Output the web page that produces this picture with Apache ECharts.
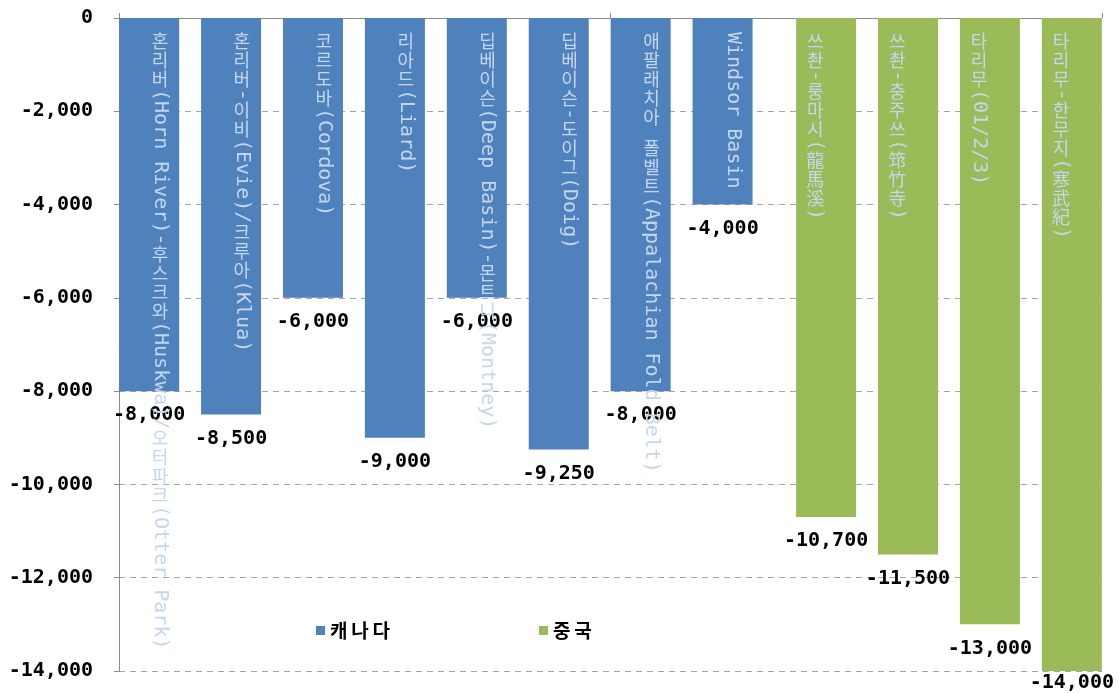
<!DOCTYPE html>
<html>
<head>
<meta charset="utf-8">
<script src="https://cdn.jsdelivr.net/npm/echarts@6/dist/echarts.min.js"></script>
<style>html,body{margin:0;padding:0;background:#fff}#c{width:1119px;height:693px}</style>
</head>
<body>
<div id="c"></div>
<script>
const categories = [
  "혼리버(Horn River)-후스크와(Huskwa)/오터파크(Otter Park)",
  "혼리버-이비(Evie)/크루아(Klua)",
  "코르도바(Cordova)",
  "리아드(Liard)",
  "딥베이슨(Deep Basin)-몬트니(Montney)",
  "딥베이슨-도이그(Doig)",
  "애팔래치아 폴벨트(Appalachian Fold Belt)",
  "Windsor Basin",
  "쓰촨-룽마시(龍馬溪)",
  "쓰촨-충주쓰(筇竹寺)",
  "타리무(01/2/3)",
  "타리무-한무지(寒武紀)"
];
const seriesNames = ["캐나다", "중국"];
const canadaValues = [-8000, -8500, -6000, -9000, -6000, -9250, -8000, -4000, null, null, null, null];
const chinaValues = [null, null, null, null, null, null, null, null, -10700, -11500, -13000, -14000];
const yMin = -14000, yMax = 0, yStep = 2000;

const BLUE = '#4f81bd', GREEN = '#9bbb59', INLABEL = '#c6d6ee';
const MONO = '"DejaVu Sans Mono", "Liberation Mono", monospace';
const KR = '"Noto Sans CJK KR", sans-serif';
const fmt = v => v.toLocaleString('en-US');

const isUpright = ch => /[\u1100-\u11FF\u3130-\u318F\uAC00-\uD7AF\u4E00-\u9FFF\uF900-\uFAFF]/.test(ch);
function splitRuns(s) {
  const runs = [];
  for (const ch of s) {
    const up = isUpright(ch);
    const last = runs[runs.length - 1];
    if (last && !last.up && !up) last.t += ch;
    else runs.push({ up: up, t: ch });
  }
  return runs;
}

function barData(vals) {
  return vals.map(v => v == null ? null : {
    value: v,
    label: { distance: v <= yMin ? 2 : 14 }
  });
}

const legendText = { fontFamily: KR, fontSize: 19, fontWeight: 'bold', color: '#000' };

const chart = echarts.init(document.getElementById('c'));
chart.setOption({
  animation: false,
  backgroundColor: '#fff',
  grid: { left: 119, right: 17, top: 18, bottom: 22, containLabel: false },
  legend: [
    { data: [seriesNames[0]], left: 316, top: 621, padding: 0, itemWidth: 9, itemHeight: 9, icon: 'rect',
      formatter: n => n.split('').join('\u2009'), textStyle: legendText },
    { data: [seriesNames[1]], left: 539, top: 621, padding: 0, itemWidth: 9, itemHeight: 9, icon: 'rect',
      formatter: n => n.split('').join('\u2009'), textStyle: legendText }
  ],
  xAxis: {
    type: 'category',
    data: categories,
    position: 'top',
    axisLine: { onZero: false, lineStyle: { color: '#8c8c8c', width: 1 } },
    axisTick: { show: true, length: 5, lineStyle: { color: '#8c8c8c' } },
    axisLabel: { show: false },
    splitLine: { show: false }
  },
  yAxis: {
    type: 'value',
    min: yMin, max: yMax, interval: yStep,
    axisLine: { show: true, lineStyle: { color: '#8c8c8c', width: 1 } },
    axisTick: { show: true, length: 5, lineStyle: { color: '#8c8c8c' } },
    axisLabel: { formatter: v => fmt(v), fontFamily: MONO, fontSize: 20, fontWeight: 'bold', color: '#000', margin: 26 },
    splitLine: { show: true, lineStyle: { color: '#a6a6a6', type: [6, 5], width: 1 } }
  },
  series: [
    {
      name: seriesNames[0], type: 'bar', data: barData(canadaValues),
      barWidth: 60, barGap: '-64%',
      itemStyle: { color: BLUE },
      label: { show: true, position: 'bottom', formatter: p => fmt(p.value),
        fontFamily: MONO, fontSize: 20, fontWeight: 'bold', color: '#000' }
    },
    {
      name: seriesNames[1], type: 'bar', data: barData(chinaValues),
      barWidth: 60, barGap: '-64%',
      itemStyle: { color: GREEN },
      label: { show: true, position: 'bottom', formatter: p => fmt(p.value),
        fontFamily: MONO, fontSize: 20, fontWeight: 'bold', color: '#000' }
    },
    {
      type: 'custom', silent: true, z: 10, clip: false,
      data: categories.map((c, i) => [i, 0]),
      encode: { x: 0, y: 1 },
      renderItem: function (params, api) {
        const i = api.value(0);
        const p = api.coord([i, 0]);
        const x = p[0];
        let y = p[1] + 14;
        const children = [];
        splitRuns(categories[i]).forEach(r => {
          if (r.up) {
            children.push({ type: 'text', x: x, y: y,
              style: { text: r.t, fill: INLABEL, fontFamily: KR, fontSize: 18, align: 'center', verticalAlign: 'top' } });
            y += 19;
          } else {
            children.push({ type: 'text', x: x, y: y, rotation: -Math.PI / 2,
              style: { text: r.t, fill: INLABEL, fontFamily: MONO, fontSize: 20, align: 'left', verticalAlign: 'middle' } });
            y += r.t.length * 12;
          }
        });
        return { type: 'group', children: children };
      }
    }
  ]
});
</script>
</body>
</html>
